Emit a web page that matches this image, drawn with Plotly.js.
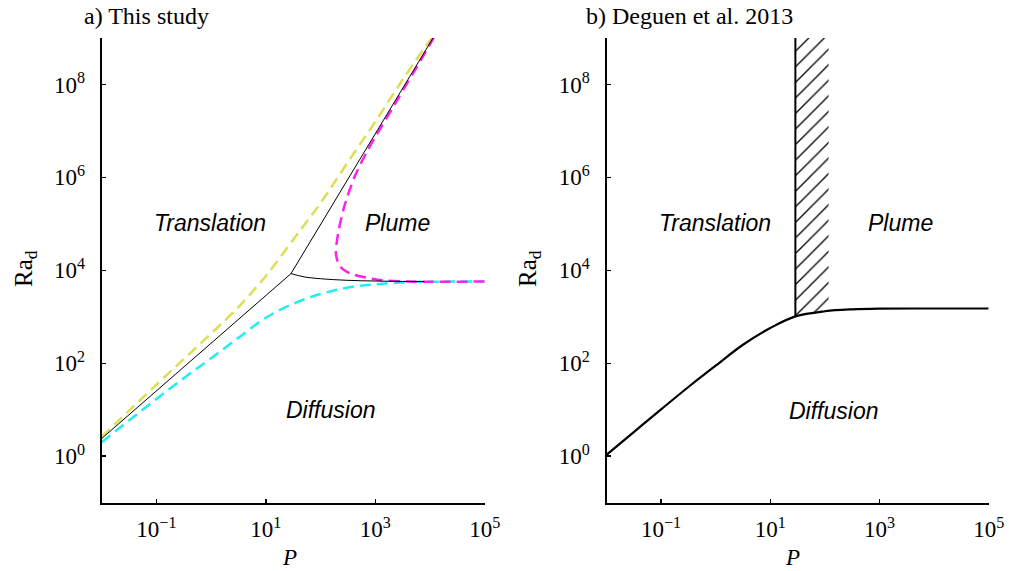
<!DOCTYPE html>
<html>
<head>
<meta charset="utf-8">
<script src="https://cdn.plot.ly/plotly-3.0.1.min.js"></script>
<style>html,body{margin:0;padding:0;background:#fff;}#chart{width:1009px;height:571px;}</style>
</head>
<body>
<div id="chart"></div>
<script>
// ---------- Panel a) This study ----------
// Yellow dashed boundary
const yellowP  = [0.01, 0.0316, 0.1, 0.316, 1, 3.16, 10, 31.6, 100, 316, 1000, 3160, 10000, 11700];
const yellowRa = [2.63, 9.55, 34.7, 123, 437, 1620, 7590, 45700, 282000, 2.14e6, 1.58e7, 1.26e8, 8.91e8, 1.12e9];
// Cyan dashed boundary
const cyanP  = [0.01, 0.0316, 0.1, 0.316, 1, 3.16, 10, 31.6, 100, 316, 1000, 3160, 10000, 100000];
const cyanRa = [2.0, 5.89, 17.0, 47.9, 129, 355, 955, 1905, 3090, 4270, 5010, 5500, 5690, 5750];
// Magenta dashed boundary (C-shaped)
const magentaP  = [12000, 6760, 2510, 724, 417, 269, 209, 191, 219, 282, 398, 1120, 3980, 100000];
const magentaRa = [1.07e9, 3.31e8, 4.57e7, 3.80e6, 1.02e6, 229000, 61700, 22900, 12900, 9770, 8130, 6310, 5750, 5750];
// Black solid regime boundaries
const blackMainP  = [0.01, 28.8, 11750];
const blackMainRa = [2.40, 8510, 1.07e9];
const blackPlumeP  = [28.8, 50.1, 100, 316, 1000, 3160, 7940];
const blackPlumeRa = [8510, 7240, 6610, 6100, 5890, 5780, 5750];

// ---------- Panel b) Deguen et al. 2013 ----------
const deguenP  = [0.01, 0.0316, 0.1, 0.316, 1, 3.16, 10, 28.8, 100, 316, 1000, 10000, 100000];
const deguenRa = [1.07, 3.31, 10.2, 30.9, 89.1, 251, 575, 1020, 1320, 1450, 1500, 1510, 1510];
// Hatched transition band
const hatchP  = [28.8, 117, 117, 100, 28.8];
const hatchRa = [2e9, 2e9, 1330, 1320, 1020];
const hatchEdgeP  = [28.8, 28.8];
const hatchEdgeRa = [1020, 2e9];

// ---------- Ticks ----------
const xTickVals = [0.1, 10, 1000, 100000];
const xTickText = ['10<sup>\u22121</sup>', '10<sup>1</sup>', '10<sup>3</sup>', '10<sup>5</sup>'];
const yTickVals = [1, 100, 10000, 1e6, 1e8];
const yTickText = ['10<sup>0</sup>', '10<sup>2</sup>', '10<sup>4</sup>', '10<sup>6</sup>', '10<sup>8</sup>'];

const W = 1009, H = 571;
const px = v => v / W;
const py = v => 1 - v / H;
const dash = '11px,6px';

const traces = [
  {x: yellowP, y: yellowRa, xaxis: 'x', yaxis: 'y', mode: 'lines', line: {color: '#dede55', width: 2.5, dash: dash, shape: 'spline', smoothing: 1}, hoverinfo: 'skip'},
  {x: cyanP, y: cyanRa, xaxis: 'x', yaxis: 'y', mode: 'lines', line: {color: '#22eeee', width: 2.5, dash: dash, shape: 'spline', smoothing: 1}, hoverinfo: 'skip'},
  {x: magentaP, y: magentaRa, xaxis: 'x', yaxis: 'y', mode: 'lines', line: {color: '#ff22ee', width: 2.5, dash: dash, shape: 'spline', smoothing: 0.8}, hoverinfo: 'skip'},
  {x: blackMainP, y: blackMainRa, xaxis: 'x', yaxis: 'y', mode: 'lines', line: {color: '#000', width: 1}, hoverinfo: 'skip'},
  {x: blackPlumeP, y: blackPlumeRa, xaxis: 'x', yaxis: 'y', mode: 'lines', line: {color: '#000', width: 1, shape: 'spline'}, hoverinfo: 'skip'},
  {x: hatchP, y: hatchRa, xaxis: 'x2', yaxis: 'y2', mode: 'lines', fill: 'toself', line: {width: 0, color: 'rgba(0,0,0,0)'},
   fillcolor: 'rgba(0,0,0,0)',
   fillpattern: {shape: '/', fgcolor: '#000', bgcolor: 'rgba(0,0,0,0)', size: 11, solidity: 0.12}, hoverinfo: 'skip'},
  {x: hatchEdgeP, y: hatchEdgeRa, xaxis: 'x2', yaxis: 'y2', mode: 'lines', line: {color: '#000', width: 2}, hoverinfo: 'skip'},
  {x: deguenP, y: deguenRa, xaxis: 'x2', yaxis: 'y2', mode: 'lines', line: {color: '#000', width: 2.2, shape: 'spline'}, hoverinfo: 'skip'}
];

const tickFont = {family: '"Liberation Serif", "Times New Roman", serif', size: 23, color: '#000'};
function xAxis(domain, anchor) {
  return {type: 'log', range: [-2, 5], domain: domain, anchor: anchor,
    tickvals: xTickVals, ticktext: xTickText, ticks: 'inside', ticklen: 4, tickwidth: 1.5, tickcolor: '#000',
    showline: true, linewidth: 2, linecolor: '#000', showgrid: false, zeroline: false,
    tickfont: tickFont, ticklabelstandoff: 5, fixedrange: true};
}
function yAxis(anchor) {
  return {type: 'log', range: [-1, 9], domain: [py(502.7), py(38)], anchor: anchor,
    tickvals: yTickVals, ticktext: yTickText, ticks: 'inside', ticklen: 4, tickwidth: 1.5, tickcolor: '#000',
    showline: true, linewidth: 2, linecolor: '#000', showgrid: false, zeroline: false,
    tickfont: tickFont, ticklabelstandoff: 10, fixedrange: true};
}

const serif = '"Liberation Serif", "Times New Roman", serif';
const sans = '"Liberation Sans", Arial, sans-serif';
const ann = [];
function txt(x, y, text, family, size, opts) {
  ann.push(Object.assign({xref: 'paper', yref: 'paper', x: px(x), y: py(y), text: text, showarrow: false,
    font: {family: family, size: size, color: '#000'}, xanchor: 'center', yanchor: 'middle'}, opts || {}));
}
txt(82, 16, 'a) This study', serif, 24, {xanchor: 'left'});
txt(584, 16, 'b) Deguen et al. 2013', serif, 24, {xanchor: 'left'});
txt(25, 269, 'Ra<sub>d</sub>', serif, 25, {textangle: -90});
txt(529, 269, 'Ra<sub>d</sub>', serif, 25, {textangle: -90});
txt(289, 557, '<i>P</i>', serif, 23);
txt(792, 557, '<i>P</i>', serif, 23);
txt(210, 223, '<i>Translation</i>', sans, 23);
txt(397, 223, '<i>Plume</i>', sans, 23);
txt(330, 410, '<i>Diffusion</i>', sans, 23);
txt(715, 223, '<i>Translation</i>', sans, 23);
txt(900, 223, '<i>Plume</i>', sans, 23);
txt(833, 411, '<i>Diffusion</i>', sans, 23);

const layout = {
  width: W, height: H, margin: {l: 0, r: 0, t: 0, b: 0},
  paper_bgcolor: '#fff', plot_bgcolor: '#fff', showlegend: false,
  xaxis: xAxis([px(101.7), px(484.7)], 'y'),
  yaxis: yAxis('x'),
  xaxis2: xAxis([px(606.5), px(988.7)], 'y2'),
  yaxis2: yAxis('x2'),
  annotations: ann
};

Plotly.newPlot('chart', traces, layout, {staticPlot: true, displayModeBar: false});
</script>
</body>
</html>
